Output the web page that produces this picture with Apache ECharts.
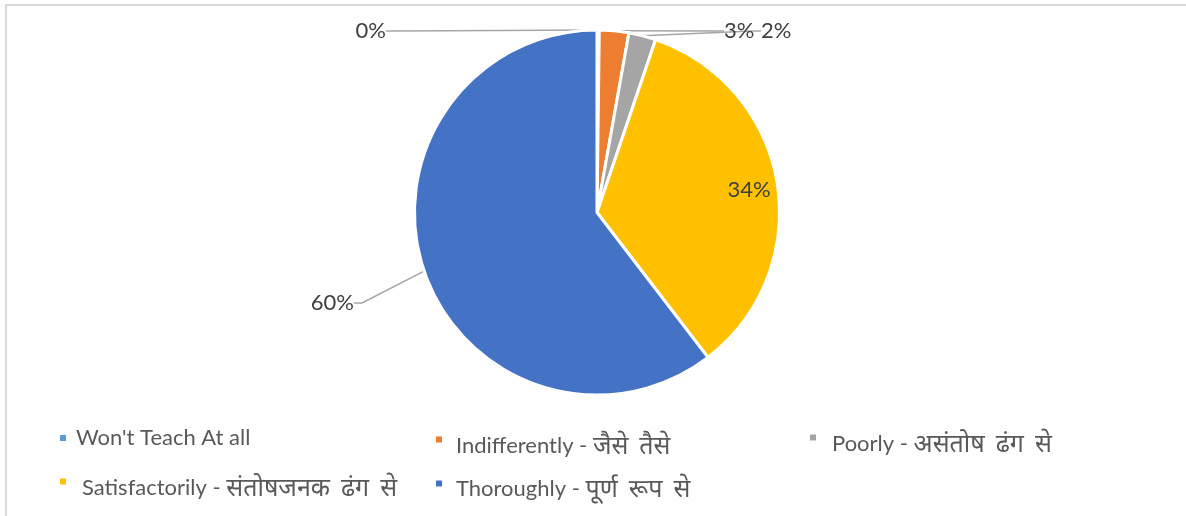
<!DOCTYPE html>
<html>
<head>
<meta charset="utf-8">
<script src="https://cdn.jsdelivr.net/npm/echarts@6/dist/echarts.min.js"></script>
<style>
html,body{margin:0;padding:0;background:#fff;}
#chart{width:1186px;height:516px;}
</style>
</head>
<body>
<div id="chart"></div>
<script>
// ---- data ----
const categories = [
  "Won't Teach At all",
  "Indifferently - जैसे तैसे",
  "Poorly - असंतोष ढंग से",
  "Satisfactorily - संतोषजनक ढंग से",
  "Thoroughly - पूर्ण रूप से"
];
const shares = [0.2, 2.6, 2.4, 34.4, 60.4];
const colors = ['#5B9BD5', '#ED7D31', '#A5A5A5', '#FFC000', '#4472C4'];

// ---- layout (not data) ----
const labelPos = [
  {x: 386, y: 31, align: 'right'},
  {x: 724, y: 31, align: 'left'},
  {x: 761, y: 31, align: 'left'},
  {x: 749, y: 190, align: 'center'},
  {x: 354, y: 303, align: 'right'}
];
const legendLeft = [58, 434, 808, 58, 434];
const legendTop = [424, 419, 417, 461, 464];
const legendShift = [0, 6.5, 6.5, 6.5, 5.5];
const legendGap = [4, 8, 10, 10, 8];

const FONT = 'Lato, "Noto Sans", "DejaVu Sans", sans-serif';
const total = shares.reduce((a, b) => a + b, 0);

function legendText(name) {
  const k = name.indexOf(' - ');
  if (k < 0) return '{lat|' + name + '}';
  const latin = name.slice(0, k + 3);
  const words = name.slice(k + 3).split(' ');
  return '{lat|' + latin + '}' + words.map(w => '{hi|' + w + '}').join('{sp| }');
}

const chart = echarts.init(document.getElementById('chart'), null, {renderer: 'canvas'});

const legends = categories.map((name, i) => ({
  data: [name],
  left: legendLeft[i],
  top: legendTop[i],
  orient: 'horizontal',
  padding: 0,
  icon: 'rect',
  itemWidth: 8,
  itemHeight: 8,
  selectedMode: false,
  formatter: legendText,
  textStyle: {
    fontFamily: FONT,
    fontSize: 22,
    color: '#595959',
    lineHeight: 28,
    padding: [legendShift[i] * 2, 0, 0, legendGap[i]],
    rich: {
      lat: {fontFamily: FONT, fontSize: 22, color: '#595959', lineHeight: 28},
      hi: {fontFamily: FONT, fontSize: 25, color: '#595959', lineHeight: 28},
      sp: {fontFamily: FONT, fontSize: 22, color: '#595959', lineHeight: 28, width: 11}
    }
  }
}));

chart.setOption({
  animation: false,
  backgroundColor: '#fff',
  color: colors,
  graphic: [{
    type: 'rect',
    silent: true,
    shape: {x: 6, y: 5, width: 1400, height: 800},
    style: {fill: 'none', stroke: '#D9D9D9', lineWidth: 2}
  }],
  legend: legends,
  series: [{
    type: 'pie',
    center: [597, 212.5],
    radius: 182.5,
    startAngle: 90,
    clockwise: true,
    avoidLabelOverlap: false,
    itemStyle: {borderColor: '#fff', borderWidth: 3},
    label: {
      show: true,
      position: 'outside',
      fontFamily: FONT,
      fontSize: 22,
      color: '#404040',
      formatter: p => Math.round(p.value / total * 100) + '%'
    },
    labelLine: {
      show: true,
      length: 10,
      length2: 8,
      lineStyle: {color: '#A6A6A6', width: 1.5}
    },
    labelLayout: p => {
      const lp = labelPos[p.dataIndex];
      return {x: lp.x, y: lp.y, align: lp.align, verticalAlign: 'middle'};
    },
    data: categories.map((name, i) => ({
      name: name,
      value: shares[i],
      labelLine: {show: i !== 3}
    }))
  }]
});
</script>
</body>
</html>
